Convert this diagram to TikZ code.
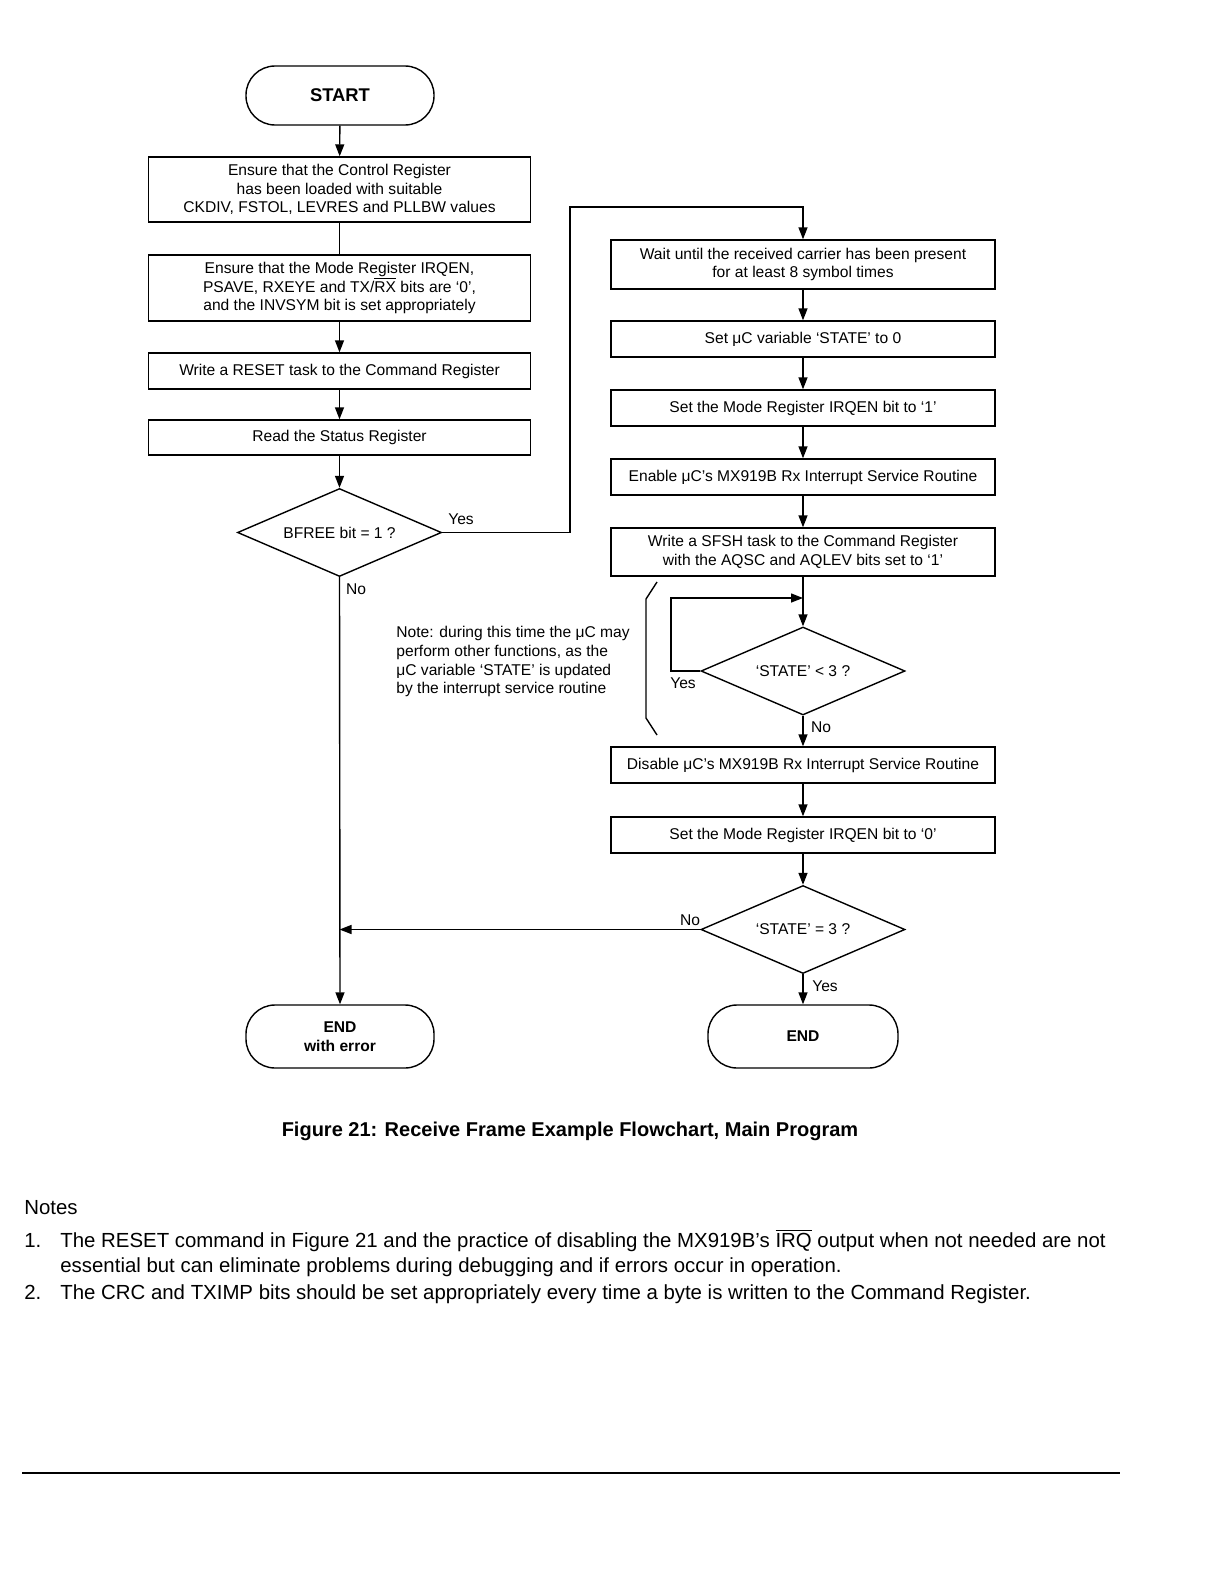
\documentclass[tikz,border=0pt]{standalone}
\usepackage{fontspec}
\setmainfont{Liberation Sans}
\usetikzlibrary{shapes.geometric,arrows.meta}
\newcommand{\ovl}[1]{\ensuremath{\overline{\hbox{#1}}}}
\newcommand{\boxfont}{\fontsize{7.8}{9.3}\selectfont}
\begin{document}
\begin{tikzpicture}[x=0.5pt,y=-0.5pt,
  box/.style={draw, line width=0.7pt, minimum width=191pt, inner sep=1pt, align=center, font=\boxfont},
  term/.style={draw, line width=0.7pt, rounded corners=14.5pt, inner sep=1pt, align=center},
  dia/.style={draw, diamond, line width=0.7pt, aspect=2.3, inner sep=0pt, minimum width=102pt, minimum height=44pt, font=\boxfont},
  lbl/.style={font=\boxfont, inner sep=1pt},
  arr/.style={-{Triangle[width=4.5pt,length=6pt]}, line width=0.7pt},
  ln/.style={line width=0.7pt},
  notefont/.style={anchor=mid west, font=\fontsize{10.2}{12}\selectfont, inner sep=0pt}]
\useasboundingbox (0,0) rectangle (1224,1584);

% left column
\node[term, minimum width=94pt, minimum height=29.5pt, font=\fontsize{9.2}{11}\selectfont\bfseries] (start) at (340,95.5) {START};
\node[box, minimum height=32.5pt] (b1) at (339.5,189.5) {Ensure that the Control Register\\has been loaded with suitable\\CKDIV, FSTOL, LEVRES and PLLBW values};
\node[box, minimum height=33pt] (b2) at (339.5,288) {Ensure that the Mode Register IRQEN,\\PSAVE, RXEYE and TX/\ovl{RX} bits are `0',\\and the INVSYM bit is set appropriately};
\node[box, minimum height=18pt] (b3) at (339.5,371) {Write a RESET task to the Command Register};
\node[box, minimum height=17.5pt] (b4) at (339.5,437.5) {Read the Status Register};
\node[dia] (d1) at (339.5,532.5) {BFREE bit = 1 ?};
\node[term, minimum width=94pt, minimum height=31.5pt, font=\boxfont\bfseries] (ende) at (340,1036.5) {END\\with error};

% right column
\node[box, minimum width=192pt, minimum height=24.5pt] (r1) at (803,264.5) {Wait until the received carrier has been present\\for at least 8 symbol times};
\node[box, minimum width=192pt, minimum height=18pt] (r2) at (803,339) {Set μC variable `STATE' to 0};
\node[box, minimum width=192pt, minimum height=18pt] (r3) at (803,408) {Set the Mode Register IRQEN bit to `1'};
\node[box, minimum width=192pt, minimum height=18pt] (r4) at (803,477) {Enable μC's MX919B Rx Interrupt Service Routine};
\node[box, minimum width=192pt, minimum height=24pt] (r5) at (803,552) {Write a SFSH task to the Command Register\\with the AQSC and AQLEV bits set to `1'};
\node[dia] (d2) at (803,671) {`STATE' < 3 ?};
\node[box, minimum width=192pt, minimum height=18pt] (r6) at (803,765) {Disable μC's MX919B Rx Interrupt Service Routine};
\node[box, minimum width=192pt, minimum height=18pt] (r7) at (803,835) {Set the Mode Register IRQEN bit to `0'};
\node[dia] (d3) at (803,929.5) {`STATE' = 3 ?};
\node[term, minimum width=95pt, minimum height=31.5pt, font=\boxfont\bfseries] (endr) at (803,1036.5) {END};

% connectors left
\draw[arr] (start) -- (b1);
\draw[ln] (b1) -- (b2);
\draw[arr] (b2) -- (b3);
\draw[arr] (b3) -- (b4);
\draw[arr] (b4) -- (d1);
\draw[arr] (d1.south) -- (ende.north);
\coordinate (c1) at (570,207);
\draw[arr] (d1.east) -| (c1) -| (r1.north);
\node[lbl] (yes1) at (461,519) {Yes};
\node[lbl] (no1) at (356,589) {No};

% connectors right
\draw[arr] (r1) -- (r2);
\draw[arr] (r2) -- (r3);
\draw[arr] (r3) -- (r4);
\draw[arr] (r4) -- (r5);
\draw[arr] (r5) -- (d2);
\coordinate (lp1) at (671,598);
\coordinate (lp2) at (803,598);
\draw[arr] (d2.west) -| (lp1) -- (lp2);
\node[lbl] (yes2) at (683,683) {Yes};
\draw[arr] (d2) -- (r6);
\node[lbl] (no2) at (821,727) {No};
\draw[arr] (r6) -- (r7);
\draw[arr] (r7) -- (d3);
\coordinate (j) at (d1.south |- d3.west);
\draw[arr] (d3.west) -- (j);
\node[lbl] (no3) at (690,920) {No};
\draw[arr] (d3) -- (endr);
\node[lbl] (yes3) at (825,986) {Yes};

% note and bracket
\draw[ln] (657,582) -- (646,599) -- (646,718) -- (657,735);
\node[lbl, align=left, anchor=north west, font=\fontsize{7.8}{9.35}\selectfont] (note) at (394,624) {Note: during this time the μC may\\perform other functions, as the\\μC variable `STATE' is updated\\by the interrupt service routine};

% caption
\node[font=\fontsize{10}{12}\selectfont\bfseries] (cap) at (570,1131) {Figure 21: Receive Frame Example Flowchart, Main Program};

% notes
\node[notefont] (notes) at (24,1209) {Notes};
\node[notefont] (n1) at (24,1242) {1.};
\node[notefont] (n1a) at (60,1242) {The RESET command in Figure 21 and the practice of disabling the MX919B's \ovl{IRQ} output when not needed are not};
\node[notefont] (n1b) at (60,1267) {essential but can eliminate problems during debugging and if errors occur in operation.};
\node[notefont] (n2) at (24,1294) {2.};
\node[notefont] (n2a) at (60,1294) {The CRC and TXIMP bits should be set appropriately every time a byte is written to the Command Register.};

% rule
\draw[line width=1pt] (22,1473) -- (1120,1473);
\end{tikzpicture}
\end{document}
